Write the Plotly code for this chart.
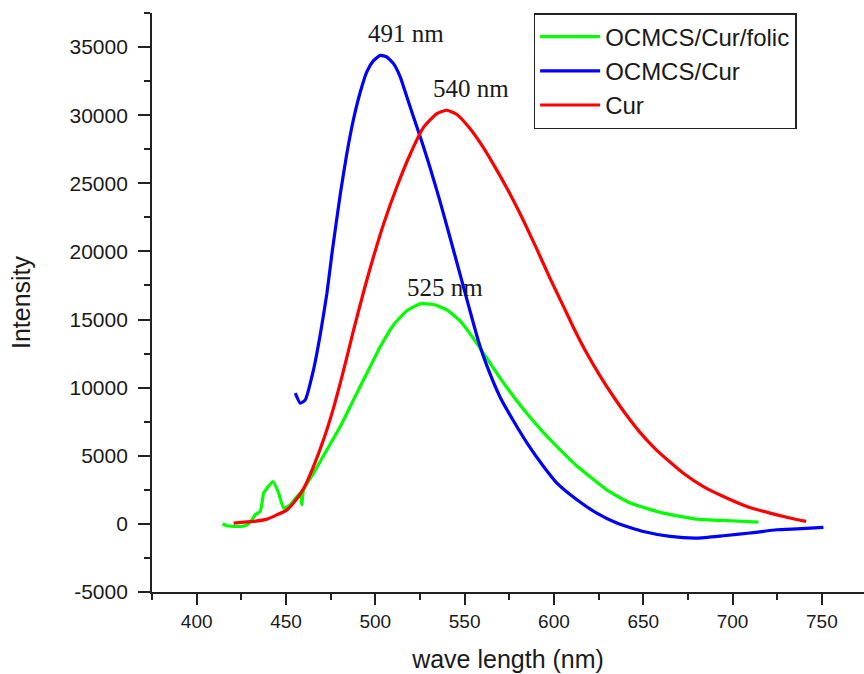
import plotly.graph_objects as go

# ---- data ----
green_name = "OCMCS/Cur/folic"
green_x = [414.5, 417.0, 424.4, 428.2, 431.0, 432.8, 435.6, 437.5, 439.4, 442.7, 445.9, 448.7,
           452.4, 458.0, 458.9, 459.8, 465.4, 472.9, 480.4, 487.8, 495.3, 502.8, 510.2, 517.7,
           525.2, 532.6, 540.1, 547.5, 555.0, 562.5, 569.9, 577.4, 584.9, 594.2, 603.5, 612.9,
           629.6, 642.7, 661.3, 680.0, 698.7, 714.5]
green_y = [10, -140, -190, -70, 300, 670, 910, 2260, 2620, 3110, 2260, 1160,
           1400, 2260, 1400, 2500, 3720, 5430, 7140, 9100, 11060, 13000, 14600, 15650,
           16150, 16100, 15700, 14900, 13600, 12150, 10700, 9350, 8100, 6700, 5430, 4250,
           2500, 1530, 790, 350, 230, 130]

blue_name = "OCMCS/Cur"
blue_x = [455.2, 458.0, 460.8, 465.4, 469.2, 472.9, 475.7, 480.4, 484.1, 487.8, 491.6, 495.3,
          499.0, 502.8, 506.5, 510.2, 514.0, 517.7, 521.4, 525.2, 528.9, 532.6, 536.4, 542.0,
          547.5, 553.1, 558.0, 562.5, 569.9, 577.4, 584.9, 594.2, 601.7, 612.9, 624.0, 635.2,
          650.1, 665.1, 680.0, 694.9, 709.8, 724.8, 736.0, 750.9]
blue_y = [9590, 8860, 9100, 11300, 13900, 16900, 19800, 24200, 27200, 29700, 31700, 33200,
          34000, 34390, 34270, 33780, 32800, 31330, 29870, 28400, 26900, 25300, 23600, 20950,
          18300, 15600, 13300, 11600, 9300, 7550, 5950, 4210, 2990, 1770, 790, 60,
          -560, -920, -1040, -870, -670, -430, -360, -260]

red_name = "Cur"
red_x = [420.7, 431.9, 439.4, 445.0, 450.6, 454.2, 459.8, 465.4, 471.0, 476.6, 482.2, 487.8,
         493.4, 497.2, 504.6, 512.1, 519.6, 527.0, 534.5, 540.1, 545.7, 553.1, 560.6, 568.1,
         575.5, 583.0, 590.5, 597.9, 605.4, 611.0, 618.5, 625.9, 633.3, 640.8, 648.3, 657.6,
         672.5, 683.7, 694.9, 708.0, 721.0, 732.2, 741.2]
red_y = [60, 180, 350, 670, 1030, 1530, 2570, 4210, 6170, 8500, 11250, 14200,
         17000, 18800, 22000, 24750, 27150, 29100, 30120, 30360, 30050, 29000, 27600, 25950,
         24200, 22250, 20150, 18000, 15950, 14400, 12500, 10850, 9350, 7950, 6700, 5400,
         3720, 2740, 2010, 1280, 790, 430, 180]

x_ticks = [400, 450, 500, 550, 600, 650, 700, 750]
y_ticks = [-5000, 0, 5000, 10000, 15000, 20000, 25000, 30000, 35000]
y_tick_labels = ["-5000", "0", "5000", "10000", "15000", "20000", "25000", "30000", "35000"]

peak_labels = ["491 nm", "540 nm", "525 nm"]
peak_label_x = [517.3, 553.7, 539.1]
peak_label_y = [36000, 31970, 17380]

x_title = "wave length (nm)"
y_title = "Intensity"

# ---- figure ----
SANS = "Liberation Sans, Arial, sans-serif"
SERIF = "Liberation Serif, Times New Roman, serif"
INK = "#1a1a1a"

fig = go.Figure()
for name, xs, ys, col in [(green_name, green_x, green_y, "#00ff00"),
                          (blue_name, blue_x, blue_y, "#0000ff"),
                          (red_name, red_x, red_y, "#ff0000")]:
    fig.add_trace(go.Scatter(x=xs, y=ys, name=name, mode="lines",
                             line=dict(color=col, width=3.2, shape="spline", smoothing=0.5)))

for t, ax, ay in zip(peak_labels, peak_label_x, peak_label_y):
    fig.add_annotation(x=ax, y=ay, text=t, showarrow=False, xanchor="center", yanchor="middle",
                       font=dict(family=SERIF, size=25, color=INK))

fig.update_layout(
    width=864, height=674,
    margin=dict(l=152, r=0, t=13, b=82),
    paper_bgcolor="white", plot_bgcolor="white",
    showlegend=True,
    legend=dict(x=0.536, y=1.0, xanchor="left", yanchor="top",
                bgcolor="white", bordercolor="#222", borderwidth=1.5,
                font=dict(family=SANS, size=24, color=INK),
                tracegroupgap=0, itemwidth=60),
    xaxis=dict(range=[375, 773.6], tickvals=x_ticks, showgrid=False, zeroline=False,
               showline=True, linecolor="#222", linewidth=1.8,
               ticks="outside", ticklen=11, tickwidth=1.8, tickcolor="#222",
               tickfont=dict(family=SANS, size=19, color=INK), ticklabelstandoff=0,
               minor=dict(dtick=25, tick0=375, ticks="outside", ticklen=6, tickwidth=1.5,
                          tickcolor="#222", showgrid=False),
               title=dict(text=x_title, font=dict(family=SANS, size=25, color=INK), standoff=20)),
    yaxis=dict(range=[-5000, 37500], tickvals=y_ticks, ticktext=y_tick_labels,
               showgrid=False, zeroline=False,
               showline=True, linecolor="#222", linewidth=1.8,
               ticks="outside", ticklen=12, tickwidth=1.8, tickcolor="#222",
               tickfont=dict(family=SANS, size=21, color=INK), ticklabelstandoff=6,
               minor=dict(dtick=2500, tick0=0, ticks="outside", ticklen=6, tickwidth=1.5,
                          tickcolor="#222", showgrid=False),
               title=dict(text=y_title, font=dict(family=SANS, size=25, color=INK), standoff=32)),
)

fig.write_html("out.html", config={"displayModeBar": False},
               post_script="document.body.style.margin='0';")
